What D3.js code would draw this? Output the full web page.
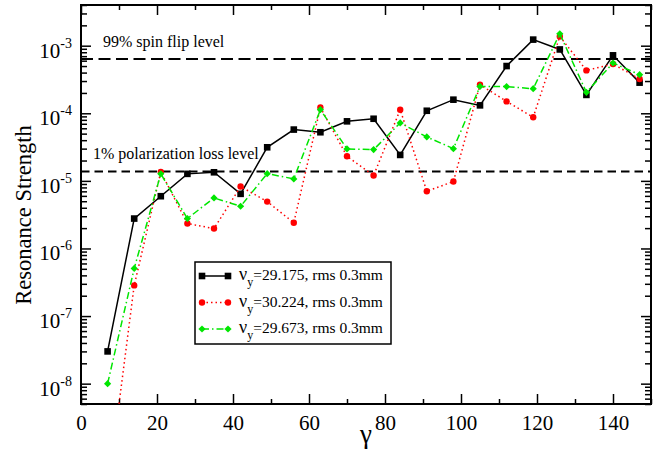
<!DOCTYPE html>
<html>
<head>
<meta charset="utf-8">
<script src="https://cdn.jsdelivr.net/npm/d3@7"></script>
<style>
  body { margin: 0; background: #fff; }
  svg { display: block; font-family: "Liberation Serif", "Times New Roman", serif; }
</style>
</head>
<body>
<div id="chart"></div>
<script>
// gamma values of the resonances
const gamma = [7, 14, 21, 28, 35, 42, 49, 56, 63, 70, 77, 84, 91, 98, 105, 112, 119, 126, 133, 140, 147];

// resonance strength for each tune
const nu29175 = [3.0e-8, 2.77e-6, 5.93e-6, 1.27e-5, 1.34e-5, 6.43e-6, 3.14e-5, 5.74e-5, 5.24e-5, 7.6e-5, 8.3e-5,
                 2.42e-5, 1.09e-4, 1.59e-4, 1.31e-4, 5.0e-4, 1.23e-3, 8.8e-4, 1.87e-4, 7.2e-4, 2.84e-4];
const nu30224 = [2.4e-10, 2.84e-7, 1.36e-5, 2.34e-6, 1.97e-6, 8.24e-6, 4.94e-6, 2.40e-6, 1.22e-4, 2.31e-5, 1.2e-5,
                 1.13e-4, 7.03e-6, 9.77e-6, 2.65e-4, 1.50e-4, 8.73e-5, 1.37e-3, 4.31e-4, 5.36e-4, 3.22e-4];
const nu29673 = [1.0e-8, 5.06e-7, 1.27e-5, 2.77e-6, 5.6e-6, 4.21e-6, 1.28e-5, 1.07e-5, 1.13e-4, 2.97e-5, 2.9e-5,
                 7.2e-5, 4.47e-5, 3.0e-5, 2.5e-4, 2.48e-4, 2.31e-4, 1.50e-3, 2.04e-4, 5.55e-4, 3.73e-4];

const seriesNames = ["29.175", "30.224", "29.673"];

const xMajor = [0, 20, 40, 60, 80, 100, 120, 140];
const xMinor = [10, 30, 50, 70, 90, 110, 130, 150];
const yExponents = [-8, -7, -6, -5, -4, -3];

const levels = [6.35e-4, 1.38e-5];
const levelLabels = ["99% spin flip level", "1% polarization loss level"];

const W = 672, H = 458;
const margin = {left: 81, right: 21, top: 5, bottom: 54};

const svg = d3.select("#chart").append("svg")
    .attr("width", W)
    .attr("height", H);

const x = d3.scaleLinear()
    .domain([0, 150])
    .range([margin.left, W - margin.right]);

const y = d3.scaleLog()
    .domain([5e-9, 4e-3])
    .range([H - margin.bottom, margin.top]);

// minor ticks of the log axis: 2..9 of every decade inside the domain
const yMinor = [];
for (let e = -9; e <= -3; e++) {
    for (let m = 2; m <= 9; m++) {
        const v = m * Math.pow(10, e);
        if (v >= 5e-9 && v <= 4e-3) yMinor.push(v);
    }
}
const yMajor = yExponents.map(e => Math.pow(10, e));

svg.append("defs").append("clipPath").attr("id", "plotclip")
    .append("rect")
    .attr("x", margin.left).attr("y", margin.top)
    .attr("width", x.range()[1] - margin.left)
    .attr("height", y.range()[0] - margin.top);

// axes, ticks pointing inwards
const bottom = H - margin.bottom, right = W - margin.right;

function addAxis(axis, transform) {
    const g = svg.append("g")
        .attr("transform", transform)
        .call(axis);
    g.select(".domain").remove();
    g.selectAll(".tick line").attr("stroke", "#000").attr("stroke-width", 1.5);
    return g;
}

const xAxis = addAxis(d3.axisBottom(x).tickValues(xMajor).tickSize(-10).tickPadding(11).tickFormat(d3.format("d")),
    `translate(0,${bottom})`);
xAxis.selectAll("text")
    .attr("fill", "#000")
    .style("font-size", "21px")
    .style("font-family", "Liberation Serif");
addAxis(d3.axisBottom(x).tickValues(xMinor).tickSize(-5).tickFormat(""), `translate(0,${bottom})`);
addAxis(d3.axisTop(x).tickValues(xMajor).tickSize(-10).tickFormat(""), `translate(0,${margin.top})`);
addAxis(d3.axisTop(x).tickValues(xMinor).tickSize(-5).tickFormat(""), `translate(0,${margin.top})`);

addAxis(d3.axisLeft(y).tickValues(yMajor).tickSize(-10).tickFormat(""), `translate(${margin.left},0)`);
addAxis(d3.axisLeft(y).tickValues(yMinor).tickSize(-6).tickFormat(""), `translate(${margin.left},0)`);
addAxis(d3.axisRight(y).tickValues(yMajor).tickSize(-10).tickFormat(""), `translate(${right},0)`);
addAxis(d3.axisRight(y).tickValues(yMinor).tickSize(-6).tickFormat(""), `translate(${right},0)`);

// y tick labels as 10 with a superscript exponent
const yLab = svg.append("g").selectAll("text")
    .data(yExponents)
    .enter().append("text")
    .attr("x", margin.left - 9)
    .attr("y", d => y(Math.pow(10, d)) + 12)
    .attr("text-anchor", "end")
    .attr("fill", "#000")
    .style("font-size", "21px");
yLab.append("tspan").text("10");
yLab.append("tspan")
    .attr("dy", -10)
    .style("font-size", "14px")
    .text(d => d);

// frame
svg.append("rect")
    .attr("x", margin.left)
    .attr("y", margin.top)
    .attr("width", right - margin.left)
    .attr("height", bottom - margin.top)
    .attr("fill", "none")
    .attr("stroke", "#000")
    .attr("stroke-width", 2);

// axis titles
svg.append("text")
    .attr("transform", `translate(31,215) rotate(-90)`)
    .attr("text-anchor", "middle")
    .attr("fill", "#000")
    .style("font-size", "22.5px")
    .text("Resonance Strength");

svg.append("text")
    .attr("x", x(75))
    .attr("y", 443)
    .attr("text-anchor", "middle")
    .attr("fill", "#000")
    .style("font-size", "27px")
    .text("γ");

// reference levels
const dashes = ["12,5.5", "8.5,5"];
svg.append("g").selectAll("line")
    .data(levels)
    .enter().append("line")
    .attr("x1", x(0)).attr("x2", x(150))
    .attr("y1", d => y(d)).attr("y2", d => y(d))
    .attr("stroke", "#000")
    .attr("stroke-width", 2)
    .attr("stroke-dasharray", (d, i) => dashes[i]);

svg.append("g").selectAll("text")
    .data(levelLabels)
    .enter().append("text")
    .attr("x", (d, i) => i === 0 ? 103 : 93)
    .attr("y", (d, i) => y(levels[i]) - 12)
    .attr("fill", "#000")
    .style("font-size", "16px")
    .text(d => d);

// series
const styles = [
    {color: "#000", dash: null, width: 1.5, marker: "square"},
    {color: "#ff0000", dash: "1.5,3", width: 1.5, marker: "circle"},
    {color: "#00e600", dash: "7,3,1.5,3", width: 1.5, marker: "diamond"}
];
const allSeries = [nu29175, nu30224, nu29673];

const line = d3.line()
    .x(d => x(d[0]))
    .y(d => y(d[1]));

function drawMarker(g, kind, color) {
    if (kind === "square") {
        g.append("rect").attr("x", -3.3).attr("y", -3.3).attr("width", 6.6).attr("height", 6.6).attr("fill", color);
    } else if (kind === "circle") {
        g.append("circle").attr("r", 3.2).attr("fill", color);
    } else {
        g.append("path").attr("d", "M0,-3.6L3.6,0L0,3.6L-3.6,0Z").attr("fill", color);
    }
}

const plot = svg.append("g").attr("clip-path", "url(#plotclip)");

allSeries.forEach((vals, i) => {
    const pts = gamma.map((g, j) => [g, vals[j]]);
    const st = styles[i];
    plot.append("path")
        .datum(pts)
        .attr("d", line)
        .attr("fill", "none")
        .attr("stroke", st.color)
        .attr("stroke-width", st.width)
        .attr("stroke-dasharray", st.dash);
    plot.append("g").selectAll("g")
        .data(pts)
        .enter().append("g")
        .attr("transform", d => `translate(${x(d[0])},${y(d[1])})`)
        .each(function () { drawMarker(d3.select(this), st.marker, st.color); });
});

// legend
const legend = svg.append("g").attr("transform", "translate(195,262)");
legend.append("rect")
    .attr("width", 196)
    .attr("height", 82)
    .attr("fill", "#fff")
    .attr("stroke", "#000")
    .attr("stroke-width", 1.5);

const rows = legend.selectAll(".row")
    .data(seriesNames)
    .enter().append("g")
    .attr("class", "row")
    .attr("transform", (d, i) => `translate(0,${14 + i * 26.5})`);

rows.append("line")
    .attr("x1", 7).attr("x2", 33)
    .attr("stroke", (d, i) => styles[i].color)
    .attr("stroke-width", 1.5)
    .attr("stroke-dasharray", (d, i) => styles[i].dash);

rows.each(function (d, i) {
    const r = d3.select(this);
    [7, 33].forEach(px => {
        const m = r.append("g").attr("transform", `translate(${px},0)`);
        drawMarker(m, styles[i].marker, styles[i].color);
    });
});

const lt = rows.append("text")
    .attr("x", 44)
    .attr("y", 4)
    .attr("fill", "#000")
    .style("font-size", "15.5px");
lt.append("tspan").style("font-size", "18px").text("ν");
lt.append("tspan").attr("dy", 6).style("font-size", "12px").text("y");
lt.append("tspan").attr("dy", -6).text(d => "=" + d + ", rms 0.3mm");
</script>
</body>
</html>
